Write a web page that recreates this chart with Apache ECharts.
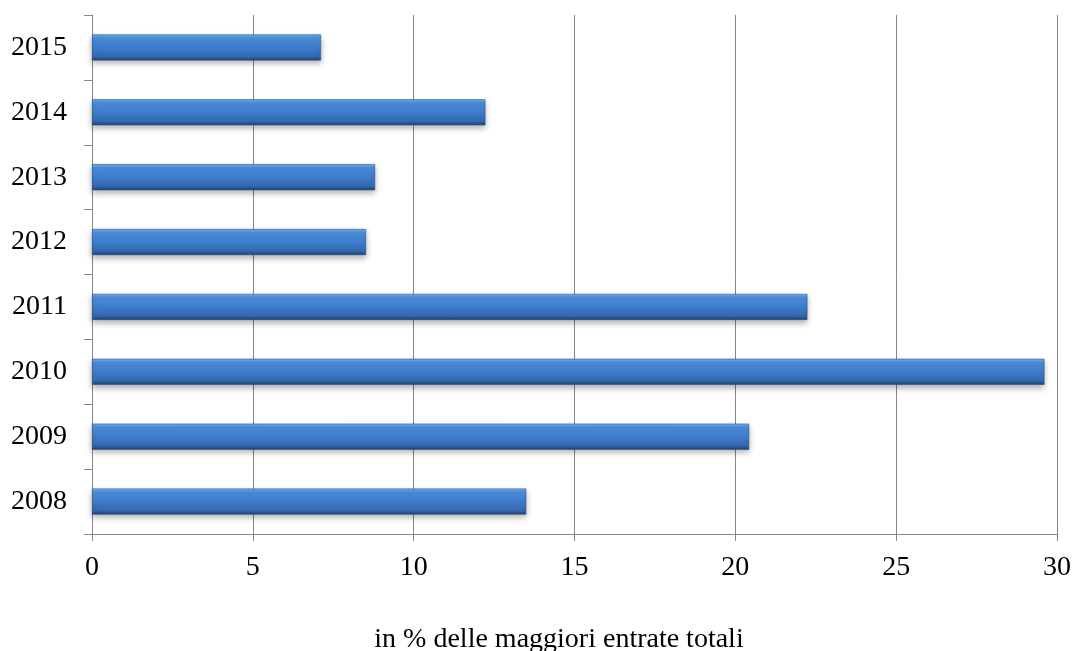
<!DOCTYPE html>
<html>
<head>
<meta charset="utf-8">
<script src="https://cdn.jsdelivr.net/npm/echarts@6/dist/echarts.min.js"></script>
<style>html,body{margin:0;padding:0;background:#fff}#c{width:1074px;height:651px}</style>
</head>
<body>
<div id="c"></div>
<script>
var categories = ['2008', '2009', '2010', '2011', '2012', '2013', '2014', '2015'];
var values = [13.5, 20.43, 29.61, 22.24, 8.52, 8.8, 12.23, 7.12];
var xTicks = [0, 5, 10, 15, 20, 25, 30];
var axisTitle = 'in % delle maggiori entrate totali';

var chart = echarts.init(document.getElementById('c'), null, {renderer: 'canvas'});
var font = '"Liberation Serif", "Times New Roman", serif';
var gray = '#868686';
chart.setOption({
  animation: false,
  backgroundColor: '#ffffff',
  grid: {left: 92, right: 15, top: 15, bottom: 117, containLabel: false},
  xAxis: {
    type: 'value', min: xTicks[0], max: xTicks[xTicks.length - 1], interval: 5,
    axisLine: {show: true, lineStyle: {color: gray, width: 1}},
    axisTick: {show: true, length: 7, lineStyle: {color: gray}},
    splitLine: {show: true, lineStyle: {color: gray, width: 1}},
    axisLabel: {fontFamily: font, fontSize: 28, color: '#000', margin: 20}
  },
  yAxis: {
    type: 'category', data: categories,
    axisLine: {show: true, lineStyle: {color: gray, width: 1}},
    axisTick: {show: true, length: 8, lineStyle: {color: gray}},
    axisLabel: {fontFamily: font, fontSize: 28, color: '#000', margin: 25},
    splitLine: {show: false}
  },
  series: [{
    type: 'bar', data: values, barWidth: 26,
    itemStyle: {
      color: new echarts.graphic.LinearGradient(0, 0, 0, 1, [
        {offset: 0, color: '#7ab6f0'},
        {offset: 0.12, color: '#4d8dda'},
        {offset: 0.5, color: '#3d7dcc'},
        {offset: 0.85, color: '#3468b0'},
        {offset: 1, color: '#1f3f6b'}
      ]),
      borderColor: '#2b5187', borderWidth: 0.6,
      shadowColor: 'rgba(0,0,0,0.3)', shadowBlur: 6, shadowOffsetY: 3
    }
  }],
  graphic: [{
    type: 'text', x: 559, y: 640,
    style: {text: axisTitle, font: '28px ' + font, fill: '#000', textAlign: 'center', textVerticalAlign: 'middle'}
  }]
});
</script>
</body>
</html>
